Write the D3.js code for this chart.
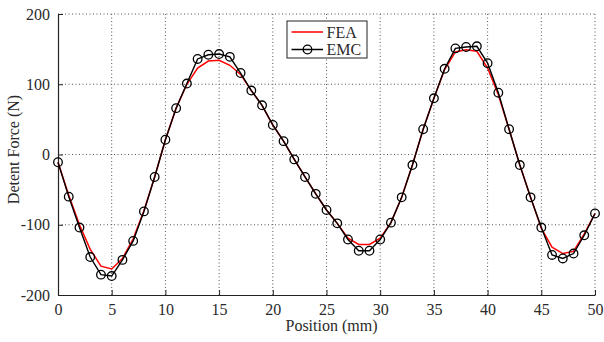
<!DOCTYPE html>
<html>
<head>
<meta charset="utf-8">
<script src="https://cdn.jsdelivr.net/npm/d3@7"></script>
<style>
	body { margin: 0; background: #fff; }
	text { font-family: "Liberation Serif", "Times New Roman", serif; fill: #2a2a2a; }
</style>
</head>
<body>
<div id="graphic"></div>
<script>
// position in mm, 0..50
const positions = d3.range(0, 51);

const feaValues = [
	-11, -58, -100, -135, -159, -163, -148, -120, -80, -32,
	21, 66, 100, 123, 133, 134, 127, 114, 91, 70,
	42, 19, -7, -32, -56, -79, -98, -119, -128, -128,
	-119, -97, -61, -15, 36, 80, 121, 146, 149, 147,
	123, 85, 36, -15, -61, -105, -132, -141, -138, -113,
	-84
];

const emcValues = [
	-11, -60, -104, -146, -171, -173, -150, -123, -81, -32,
	21, 66, 101, 136, 142, 143, 139, 116, 91, 70,
	42, 19, -7, -32, -56, -79, -98, -121, -137, -137,
	-121, -97, -61, -15, 36, 80, 122, 151, 153, 154,
	130, 88, 36, -15, -61, -104, -143, -148, -141, -115,
	-84
];

const xTicks = [0, 5, 10, 15, 20, 25, 30, 35, 40, 45, 50];
const yTicks = [-200, -100, 0, 100, 200];
const seriesNames = ['FEA', 'EMC'];

const width = 604, height = 342;
const margin = { top: 14, right: 9, bottom: 47, left: 58 };
const chart_width = width - margin.left - margin.right;
const chart_height = height - margin.top - margin.bottom;

const svg = d3.select('#graphic')
	.append('svg')
	.attr('width', width)
	.attr('height', height)
	.append('g')
	.attr('transform', 'translate(' + margin.left + ',' + margin.top + ')');

const x = d3.scaleLinear().domain([0, 50]).range([0, chart_width]);
const y = d3.scaleLinear().domain([-200, 200]).range([chart_height, 0]);

// dotted grid
svg.append('g')
	.selectAll('line')
	.data(xTicks.filter((d) => d > 0))
	.join('line')
	.attr('x1', (d) => x(d)).attr('x2', (d) => x(d))
	.attr('y1', 0).attr('y2', chart_height)
	.attr('stroke', '#555').attr('stroke-width', 1)
	.attr('stroke-dasharray', '1,2.5');

svg.append('g')
	.selectAll('line')
	.data(yTicks.filter((d) => d > -200))
	.join('line')
	.attr('x1', 0).attr('x2', chart_width)
	.attr('y1', (d) => y(d)).attr('y2', (d) => y(d))
	.attr('stroke', '#555').attr('stroke-width', 1)
	.attr('stroke-dasharray', '1,2.5');

// axes (ticks point inward), plain hyphen for negatives
const fmt = (d) => String(d);
const xAxis = svg.append('g')
	.attr('transform', 'translate(0,' + chart_height + ')')
	.call(d3.axisBottom(x).tickValues(xTicks).tickFormat(fmt).tickSize(-5).tickPadding(9).tickSizeOuter(0));
const yAxis = svg.append('g')
	.call(d3.axisLeft(y).tickValues(yTicks).tickFormat(fmt).tickSize(-5).tickPadding(8).tickSizeOuter(0));

[xAxis, yAxis].forEach((a) => {
	a.select('.domain').attr('stroke', '#222').attr('stroke-width', 1.2);
	a.selectAll('.tick line').attr('stroke', '#222');
	a.selectAll('.tick text')
		.style('font-family', '"Liberation Serif", serif')
		.style('font-size', '16px')
		.attr('fill', '#333');
});

// lines
const line = (vals) => d3.line()
	.x((d, i) => x(positions[i]))
	.y((d) => y(d))(vals);

svg.append('path')
	.attr('d', line(feaValues))
	.attr('fill', 'none')
	.attr('stroke', '#f00')
	.attr('stroke-width', 1.5);

svg.append('path')
	.attr('d', line(emcValues))
	.attr('fill', 'none')
	.attr('stroke', '#000')
	.attr('stroke-width', 1.4);

svg.append('g')
	.selectAll('circle')
	.data(emcValues)
	.join('circle')
	.attr('cx', (d, i) => x(positions[i]))
	.attr('cy', (d) => y(d))
	.attr('r', 4.3)
	.attr('fill', 'none')
	.attr('stroke', '#000')
	.attr('stroke-width', 1.3);

// axis labels
svg.append('text')
	.attr('x', chart_width / 2 + 5)
	.attr('y', chart_height + 36)
	.attr('text-anchor', 'middle')
	.style('font-size', '16px')
	.text('Position (mm)');

svg.append('text')
	.attr('transform', 'translate(' + (-39) + ',' + (chart_height / 2 - 5) + ') rotate(-90)')
	.attr('text-anchor', 'middle')
	.style('font-size', '16px')
	.text('Detent Force (N)');

// legend
const legend = svg.append('g')
	.attr('transform', 'translate(' + (287 - margin.left) + ',' + (21 - margin.top) + ')');

legend.append('rect')
	.attr('width', 80).attr('height', 37)
	.attr('fill', '#fff')
	.attr('stroke', '#222').attr('stroke-width', 1);

const items = legend.selectAll('g.item')
	.data(seriesNames)
	.join('g')
	.attr('class', 'item')
	.attr('transform', (d, i) => 'translate(0,' + (11 + i * 17.5) + ')');

items.append('line')
	.attr('x1', 4.5).attr('x2', 36)
	.attr('stroke', (d, i) => i === 0 ? '#f00' : '#000')
	.attr('stroke-width', 1.5);

items.filter((d, i) => i === 1)
	.append('circle')
	.attr('cx', 20.5).attr('r', 4.3)
	.attr('fill', 'none').attr('stroke', '#000').attr('stroke-width', 1.3);

items.append('text')
	.attr('x', 39.5)
	.attr('dy', '0.36em')
	.style('font-size', '16px')
	.text((d) => d);
</script>
</body>
</html>
